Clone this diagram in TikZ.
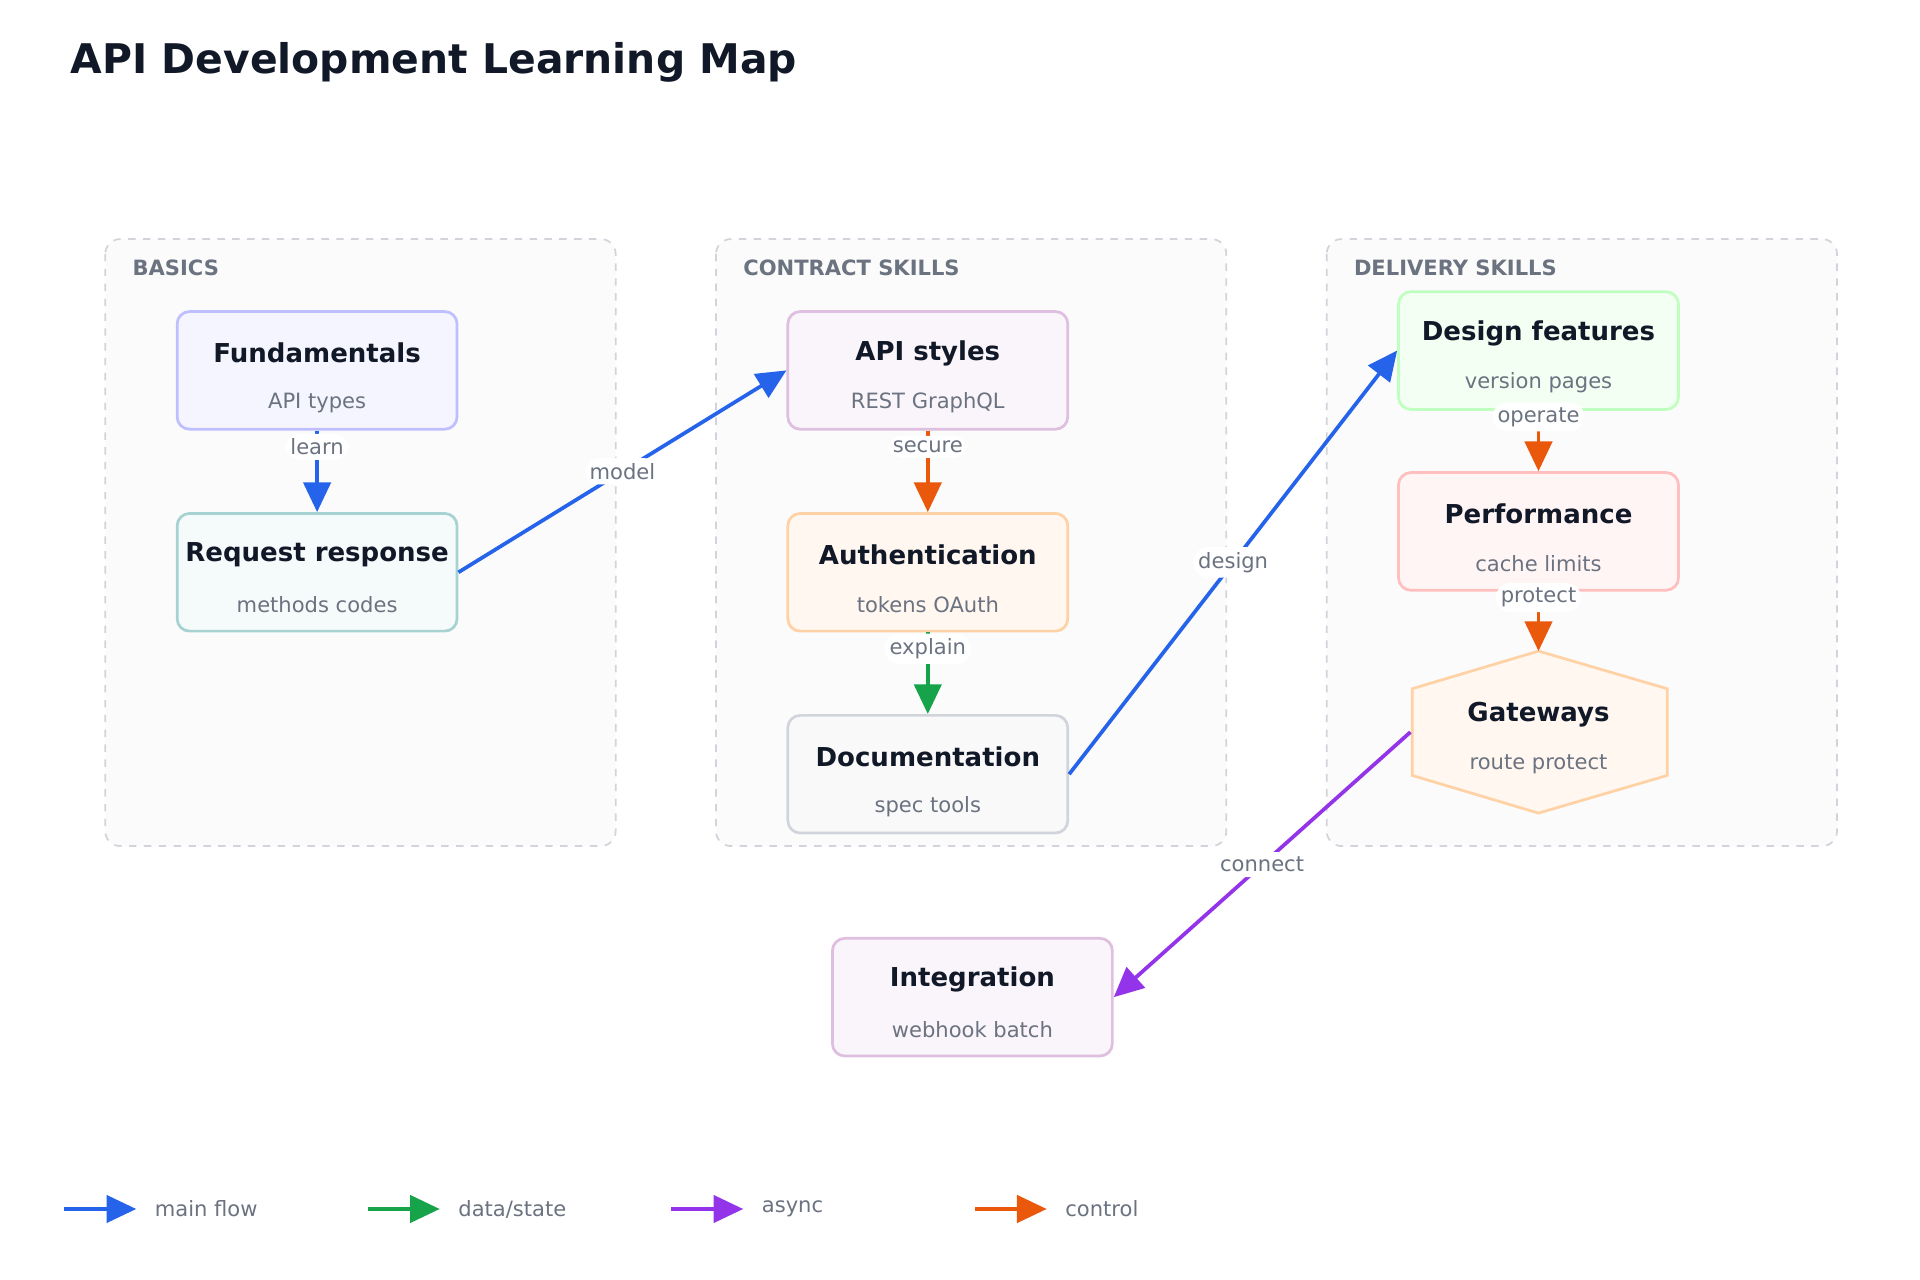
\documentclass[tikz,border=0pt]{standalone}
\usepackage{fontspec}
\setmainfont{DejaVu Sans}
\usetikzlibrary{arrows.meta}
\definecolor{cblue}{HTML}{2563EB}
\definecolor{cgreen}{HTML}{16A34A}
\definecolor{cpurple}{HTML}{9333EA}
\definecolor{corange}{HTML}{EA580C}
\definecolor{tdark}{HTML}{111827}
\definecolor{tgray}{HTML}{6B7280}
\definecolor{gborder}{HTML}{D1D5DB}
\begin{document}
\begin{tikzpicture}[x=0.5pt,y=-0.5pt,
  grp/.style={draw=gborder,dashed,line width=0.7pt,fill=gray!3,rounded corners=6pt},
  grplab/.style={anchor=west,font=\fontsize{8.5}{10}\selectfont\bfseries,text=tgray},
  box/.style={draw=#1,line width=1.1pt,rounded corners=5pt,minimum width=113pt,minimum height=47.5pt},
  ttl/.style={font=\fontsize{10.5}{12}\selectfont\bfseries,text=tdark},
  sub/.style={font=\fontsize{8.5}{10}\selectfont,text=tgray},
  elab/.style={fill=white,rounded corners=6pt,inner sep=2pt,font=\fontsize{8.5}{10}\selectfont,text=tgray},
  arr/.style={draw=#1,line width=1.5pt,-{Triangle[length=12pt,width=11pt]}},
]
\useasboundingbox (0,0) rectangle (1550,1033);
\fill[white] (0,0) rectangle (1550,1033);
\node[anchor=west,font=\fontsize{16.5}{20}\selectfont\bfseries,text=tdark] (title) at (50,50) {API Development Learning Map};

\draw[grp] (85,193) rectangle (497,683);
\draw[grp] (578,193) rectangle (990,683);
\draw[grp] (1071,193) rectangle (1483,683);
\node[grplab] (g1) at (100,216) {BASICS};
\node[grplab] (g2) at (593,216) {CONTRACT SKILLS};
\node[grplab] (g3) at (1086,216) {DELIVERY SKILLS};

\newcommand{\mybox}[6]{%
  \node[box=#4,fill=#5] (#1) at #2 {};
  \node[ttl] (#1t) at ([yshift=7pt]#1.center) {#3};
  \node[sub] (#1s) at ([yshift=-13pt]#1.center) {#6};}
\mybox{f}{(256,299)}{Fundamentals}{blue!25}{blue!4}{API types}
\mybox{r}{(256,462)}{Request response}{teal!35}{teal!4}{methods codes}
\mybox{a}{(749,299)}{API styles}{violet!25}{violet!4}{REST GraphQL}
\mybox{au}{(749,462)}{Authentication}{orange!35}{orange!6}{tokens OAuth}
\mybox{d}{(749,625)}{Documentation}{gborder}{gray!5}{spec tools}
\mybox{df}{(1242,283)}{Design features}{green!25}{green!5}{version pages}
\mybox{p}{(1242,429)}{Performance}{red!25}{red!4}{cache limits}
\mybox{i}{(785,805)}{Integration}{violet!25}{violet!4}{webhook batch}

\node[minimum width=103pt,minimum height=65pt,inner sep=0] (g) at (1242,591) {};
\draw[orange!35,fill=orange!6,line width=1.1pt] (g.north) -- (1346,556) -- (1346,626) -- (g.south) -- (1140,626) -- (1140,556) -- cycle;
\node[ttl] (gt) at ([yshift=7pt]g.center) {Gateways};
\node[sub] (gs) at ([yshift=-13pt]g.center) {route protect};

\draw[arr=cblue] (f.south) -- node[elab,pos=0.2] {learn} (r.north);
\draw[arr=cblue] (r.east) -- node[elab] {model} (a.west);
\draw[arr=corange] (a.south) -- node[elab,pos=0.2] {secure} (au.north);
\draw[arr=cgreen] (au.south) -- node[elab,pos=0.2] {explain} (d.north);
\draw[arr=cblue] (d.east) -- node[elab] {design} (df.west);
\draw[arr=corange] (df.south) -- node[elab,pos=0.1] {operate} (p.north);
\draw[arr=corange] (p.south) -- node[elab,pos=0.1] {protect} (g.north);
\draw[arr=cpurple] (g.west) -- node[elab] {connect} (i.east);

\foreach \c/\t/\x [count=\k] in {cblue/main flow/52, cgreen/data\slash state/297, cpurple/async/542, corange/control/787}{
  \coordinate (l\k a) at (\x,976);
  \coordinate (l\k b) at (\x+58,976);
  \draw[arr=\c] (l\k a) -- (l\k b);
  \node[anchor=west,font=\fontsize{8.5}{10}\selectfont,text=tgray] (l\k t) at (\x+66,976) {\t};
}
\end{tikzpicture}
\end{document}
